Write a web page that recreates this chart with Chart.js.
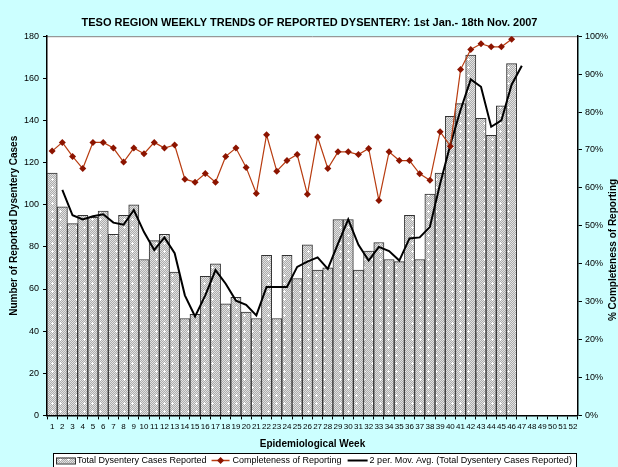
<!DOCTYPE html>
<html>
<head>
<meta charset="utf-8">
<script src="https://cdn.jsdelivr.net/npm/chart.js@4"></script>
<style>
  html, body { margin: 0; padding: 0; background: #ccffff; }
  #wrap { width: 618px; height: 467px; position: relative; }
</style>
</head>
<body>
<div id="wrap"><canvas id="chart" width="618" height="467"></canvas></div>
<script>
// Weeks 1..52
const weeks = [];
for (let i = 1; i <= 52; i++) weeks.push(String(i));

// Total dysentery cases reported per week (weeks 1-46)
const cases = [115, 99, 91, 95, 94, 97, 86, 95, 100, 74, 83, 86, 68, 46, 48, 66, 72, 53, 56, 49,
    46, 76, 46, 76, 65, 81, 69, 70, 93, 93, 69, 78, 82, 74, 73, 95, 74, 105, 115, 142,
    148, 171, 141, 133, 147, 167];

// Completeness of reporting (%), weeks 1-46
const completeness = [69.7, 72, 68.3, 65.1, 72, 72, 70.5, 66.8, 70.5, 69, 72, 70.5, 71.3, 62.3, 61.5, 63.8, 61.5, 68.3, 70.5, 65.4,
    58.5, 74, 64.4, 67.2, 68.8, 58.3, 73.4, 65.1, 69.5, 69.5, 68.8, 70.4, 56.7, 69.5, 67.2, 67.2, 63.7, 62, 74.8, 71,
    91.2, 96.5, 98, 97.2, 97.2, 99.2];

// 2 period moving average line as plotted (week 1 empty, weeks 2-47)
const movAvg = [null, 107, 95, 93, 94.5, 95.5, 91.5, 90.5, 97.5, 87, 78.5, 84.5, 77, 57, 47, 57, 69, 62.5, 54.5, 52.5,
    47.5, 61, 61, 61, 70.5, 73, 75, 69.5, 81.5, 93, 81, 73.5, 80, 78, 73.5, 84, 84.5, 89.5, 110, 128.5,
    145, 159.5, 156, 137, 140, 157, 166];

const leftTicks = [0, 20, 40, 60, 80, 100, 120, 140, 160, 180];
const rightTicks = [0, 10, 20, 30, 40, 50, 60, 70, 80, 90, 100];

const FONT = 'Arial, "Liberation Sans", sans-serif';
const lineColor = '#b83c10';
const markerColor = '#8c1400';

// grey checker with white sparkles, like the old Excel fill
function makePattern() {
    const c = document.createElement('canvas');
    c.width = 8; c.height = 8;
    const g = c.getContext('2d');
    for (let y = 0; y < 8; y++) {
        for (let x = 0; x < 8; x++) {
            g.fillStyle = (x + y) % 2 ? '#acacac' : '#e2e2e2';
            g.fillRect(x, y, 1, 1);
        }
    }
    g.fillStyle = '#ffffff';
    g.fillRect(4, 2, 1, 3);
    g.fillRect(3, 3, 3, 1);
    return g.createPattern(c, 'repeat');
}
const barPattern = makePattern();

const bgPlugin = {
    id: 'bg',
    beforeDraw(chart) {
        const { ctx, chartArea: a } = chart;
        ctx.save();
        ctx.fillStyle = '#ccffff';
        ctx.fillRect(0, 0, chart.width, chart.height);
        ctx.fillStyle = '#ffffff';
        ctx.fillRect(a.left, a.top, a.right - a.left, a.bottom - a.top);
        ctx.strokeStyle = '#808080';
        ctx.lineWidth = 1;
        ctx.beginPath();
        ctx.moveTo(a.left, a.top + 0.5);
        ctx.lineTo(a.right, a.top + 0.5);
        ctx.stroke();
        ctx.restore();
    },
    afterDraw(chart) {
        const ctx = chart.ctx;
        ctx.save();
        // right axis title (runs off the edge, as in the original)
        ctx.translate(613, 250);
        ctx.rotate(-Math.PI / 2);
        ctx.font = 'bold 10px ' + FONT;
        ctx.fillStyle = '#000';
        ctx.textAlign = 'center';
        ctx.textBaseline = 'middle';
        ctx.fillText('% Completeness of Reporting', 0, 0);
        ctx.restore();

        // legend box
        ctx.save();
        const bx = 53, by = 453, bw = 523, bh = 18;
        ctx.fillStyle = '#ffffff';
        ctx.fillRect(bx, by, bw, bh);
        ctx.strokeStyle = '#000';
        ctx.lineWidth = 1;
        ctx.strokeRect(bx + 0.5, by + 0.5, bw, bh);
        ctx.font = '9px ' + FONT;
        ctx.textBaseline = 'middle';
        const cy = by + 7.5;
        let x = bx + 3;
        ctx.fillStyle = barPattern;
        ctx.fillRect(x, cy - 3, 19, 6);
        ctx.strokeStyle = '#333';
        ctx.strokeRect(x + 0.5, cy - 3 + 0.5, 19, 6);
        x += 21;
        ctx.fillStyle = '#000';
        ctx.fillText('Total Dysentery Cases Reported', x, cy);
        x += ctx.measureText('Total Dysentery Cases Reported').width + 5;
        ctx.strokeStyle = lineColor;
        ctx.lineWidth = 1.5;
        ctx.beginPath();
        ctx.moveTo(x, cy); ctx.lineTo(x + 18, cy); ctx.stroke();
        ctx.fillStyle = markerColor;
        ctx.beginPath();
        ctx.moveTo(x + 9, cy - 3.5); ctx.lineTo(x + 12.5, cy);
        ctx.lineTo(x + 9, cy + 3.5); ctx.lineTo(x + 5.5, cy);
        ctx.closePath(); ctx.fill();
        x += 21;
        ctx.fillStyle = '#000';
        ctx.fillText('Completeness of Reporting', x, cy);
        x += ctx.measureText('Completeness of Reporting').width + 6;
        ctx.strokeStyle = '#000';
        ctx.lineWidth = 2;
        ctx.beginPath();
        ctx.moveTo(x, cy); ctx.lineTo(x + 20, cy); ctx.stroke();
        x += 22;
        ctx.fillText('2 per. Mov. Avg. (Total Dysentery Cases Reported)', x, cy);
        ctx.restore();
    }
};

new Chart(document.getElementById('chart'), {
    data: {
        labels: weeks,
        datasets: [{
            type: 'bar',
            label: 'Total Dysentery Cases Reported',
            data: cases,
            yAxisID: 'y',
            backgroundColor: barPattern,
            borderColor: '#333333',
            borderWidth: 1,
            barPercentage: 1,
            categoryPercentage: 1,
            order: 3
        }, {
            type: 'line',
            label: 'Completeness of Reporting',
            data: completeness,
            yAxisID: 'y1',
            borderColor: lineColor,
            borderWidth: 1.2,
            pointStyle: 'rectRot',
            pointRadius: 3.5,
            pointBackgroundColor: markerColor,
            pointBorderColor: markerColor,
            pointBorderWidth: 0,
            tension: 0,
            order: 1
        }, {
            type: 'line',
            label: '2 per. Mov. Avg. (Total Dysentery Cases Reported)',
            data: movAvg,
            yAxisID: 'y',
            borderColor: '#000000',
            borderWidth: 2,
            pointRadius: 0,
            tension: 0,
            order: 2
        }]
    },
    options: {
        responsive: false,
        animation: false,
        layout: { padding: { top: 4, right: 7, left: 8, bottom: 17 } },
        plugins: {
            legend: { display: false },
            tooltip: { enabled: false },
            title: {
                display: true,
                text: 'TESO REGION WEEKLY TRENDS OF REPORTED DYSENTERY: 1st Jan.- 18th Nov. 2007',
                color: '#000',
                font: { family: FONT, size: 11, weight: 'bold' },
                padding: { top: 12, bottom: 7 }
            }
        },
        scales: {
            x: {
                offset: true,
                grid: { display: true, drawOnChartArea: false, offset: true, color: '#000', tickLength: 4 },
                border: { color: '#000', width: 1.5 },
                ticks: { color: '#000', font: { family: FONT, size: 8 }, maxRotation: 0, autoSkip: false, padding: 3 },
                title: {
                    display: true,
                    text: 'Epidemiological Week',
                    color: '#000',
                    font: { family: FONT, size: 10, weight: 'bold' },
                    padding: { top: 3, bottom: 0 }
                }
            },
            y: {
                position: 'left',
                min: 0,
                max: 180,
                afterBuildTicks(axis) { axis.ticks = leftTicks.map(v => ({ value: v })); },
                grid: { display: true, drawOnChartArea: false, color: '#000', tickLength: 4 },
                border: { color: '#000', width: 1.5 },
                ticks: { color: '#000', font: { family: FONT, size: 9 }, padding: 4 },
                title: {
                    display: true,
                    text: 'Number of Reported Dysentery Cases',
                    color: '#000',
                    font: { family: FONT, size: 10, weight: 'bold' },
                    padding: { top: 0, bottom: 0 }
                }
            },
            y1: {
                position: 'right',
                min: 0,
                max: 100,
                afterBuildTicks(axis) { axis.ticks = rightTicks.map(v => ({ value: v })); },
                grid: { display: true, drawOnChartArea: false, color: '#000', tickLength: 4 },
                border: { color: '#000', width: 1.5 },
                ticks: { color: '#000', font: { family: FONT, size: 9 }, padding: 3, callback: v => v + '%' }
            }
        }
    },
    plugins: [bgPlugin]
});
</script>
</body>
</html>
